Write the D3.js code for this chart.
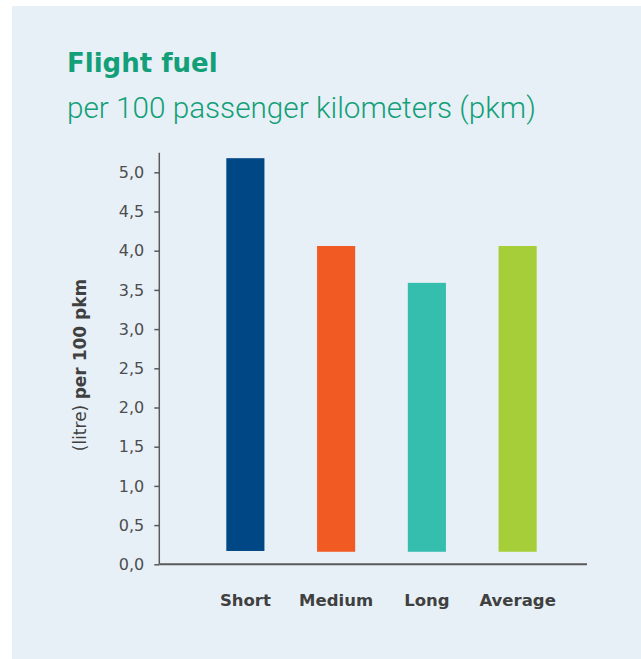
<!DOCTYPE html>
<html lang="en">
<head>
    <meta charset="UTF-8">
    <title>Flight fuel</title>
    <script src="https://d3js.org/d3.v7.min.js"></script>
    <style>
        html, body {
            margin: 0;
            padding: 0;
            background-color: #e8f0f7;
            overflow: hidden;
        }
        svg {
            display: block;
        }
        .tick text {
            font-family: "DejaVu Sans", sans-serif;
            font-size: 16px;
            fill: #4d4d4d;
        }
        .tick line {
            stroke: #5a5a5a;
            stroke-width: 1.5px;
        }
    </style>
</head>
<body>
    <div id="chart"></div>

    <script>
        const categories = ["Short", "Medium", "Long", "Average"];
        const fuelValues = [5.18, 4.06, 3.59, 4.06];
        const barBase = [0.17, 0.16, 0.16, 0.16];
        const barColors = ["#004785", "#f15a22", "#35bdae", "#a6ce39"];
        const yTicks = [0, 0.5, 1, 1.5, 2, 2.5, 3, 3.5, 4, 4.5, 5];
        const yAxisTop = 5.25;

        const width = 641;
        const height = 659;
        const green = "#13a078";

        const svg = d3.select("#chart")
            .append("svg")
            .attr("width", width)
            .attr("height", height);

        // white margin top/left, then the light blue panel
        svg.append("rect")
            .attr("width", width)
            .attr("height", height)
            .attr("fill", "#ffffff");

        svg.append("rect")
            .attr("x", 12)
            .attr("y", 6)
            .attr("width", width - 12)
            .attr("height", height + 20)
            .attr("fill", "#e8f0f7");

        svg.append("text")
            .attr("x", 67)
            .attr("y", 72)
            .attr("fill", green)
            .style("font-family", "'DejaVu Sans', sans-serif")
            .style("font-weight", "bold")
            .style("font-size", "26px")
            .text("Flight fuel");

        svg.append("text")
            .attr("x", 67)
            .attr("y", 118)
            .attr("fill", green)
            .style("font-family", "Roboto, sans-serif")
            .style("font-weight", 300)
            .style("font-size", "29.7px")
            .text("per 100 passenger kilometers (pkm)");

        const y = d3.scaleLinear()
            .domain([0, 5])
            .range([564.3, 172.3]);

        const x = d3.scaleBand()
            .domain(categories)
            .range([200, 563])
            .paddingInner(0.58)
            .paddingOuter(0.29);

        const axisX0 = 159.3;

        // bars
        svg.selectAll("rect.bar")
            .data(categories)
            .enter()
            .append("rect")
            .attr("class", "bar")
            .attr("x", d => x(d))
            .attr("width", x.bandwidth())
            .attr("y", (d, i) => y(fuelValues[i]))
            .attr("height", (d, i) => y(barBase[i]) - y(fuelValues[i]))
            .attr("fill", (d, i) => barColors[i]);

        // y axis
        const yAxis = d3.axisLeft(y)
            .tickValues(yTicks)
            .tickSize(5)
            .tickPadding(10)
            .tickFormat(d => d3.format(".1f")(d).replace(".", ","));

        const gy = svg.append("g")
            .attr("transform", `translate(${axisX0},0)`)
            .call(yAxis);
        gy.select(".domain").remove();

        svg.append("line")
            .attr("x1", axisX0).attr("x2", axisX0)
            .attr("y1", y(yAxisTop)).attr("y2", y(0))
            .attr("stroke", "#5a5a5a")
            .attr("stroke-width", 1.5);

        // x axis line
        svg.append("line")
            .attr("x1", axisX0).attr("x2", 587)
            .attr("y1", y(0)).attr("y2", y(0))
            .attr("stroke", "#5a5a5a")
            .attr("stroke-width", 2);

        svg.selectAll("text.cat")
            .data(categories)
            .enter()
            .append("text")
            .attr("class", "cat")
            .attr("x", d => x(d) + x.bandwidth() / 2)
            .attr("y", 606)
            .attr("text-anchor", "middle")
            .attr("fill", "#404040")
            .style("font-family", "'DejaVu Sans', sans-serif")
            .style("font-weight", "bold")
            .style("font-size", "16.5px")
            .text(d => d);

        // y axis title
        const yTitle = svg.append("text")
            .attr("transform", "translate(85.5,365) rotate(-90)")
            .attr("text-anchor", "middle")
            .attr("fill", "#404040")
            .style("font-family", "'DejaVu Sans', sans-serif")
            .style("font-size", "17px");
        yTitle.append("tspan").text("(litre) ");
        yTitle.append("tspan").style("font-weight", "bold").text("per 100 pkm");
    </script>
</body>
</html>
